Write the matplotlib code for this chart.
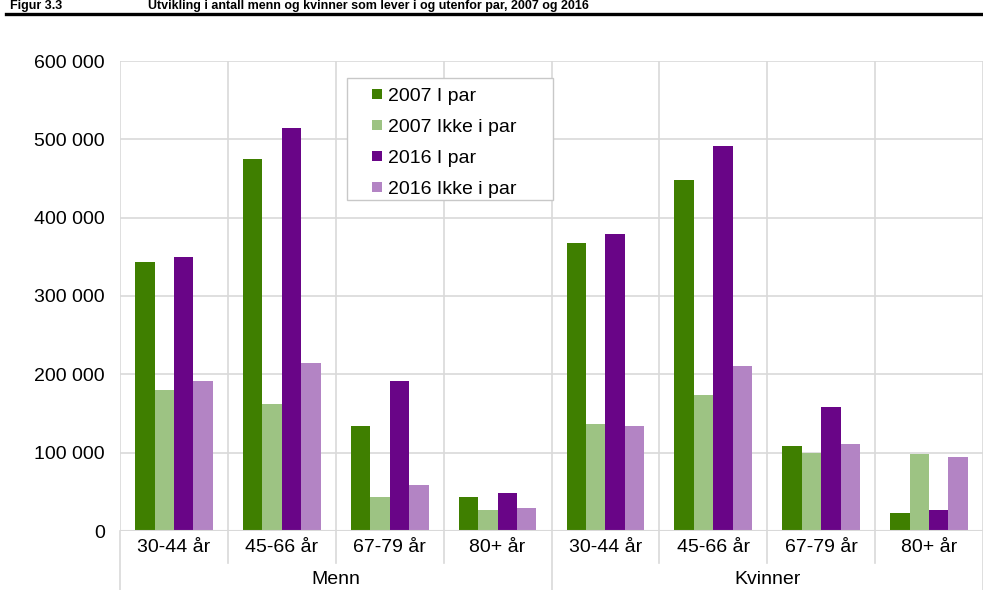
import matplotlib.pyplot as plt
import matplotlib.transforms as mtransforms
from matplotlib.lines import Line2D
import matplotlib.patches as patches
import numpy as np

plt.rcParams['font.family'] = ['Liberation Sans', 'DejaVu Sans']

age_groups = ['30-44 år', '45-66 år', '67-79 år', '80+ år']
sexes = ['Menn', 'Kvinner']
series_names = ['2007 I par', '2007 Ikke i par', '2016 I par', '2016 Ikke i par']

# Menn first, then Kvinner
par_2007 = [343000, 475000, 134000, 43500, 368000, 448000, 108500, 23000]
ikke_par_2007 = [180000, 162000, 43500, 27000, 137000, 173500, 99500, 98500]
par_2016 = [350000, 514000, 191500, 48500, 379000, 491500, 158500, 27000]
ikke_par_2016 = [191500, 214500, 58500, 29500, 134000, 210500, 111000, 94500]

colors = ['#3f7f00', '#9dc383', '#690587', '#b384c4']
grid_col = '#d9d9d9'
fs = 14

fig = plt.figure(figsize=(9.83, 5.9), dpi=100)
ax = fig.add_axes([120 / 983, 1 - 531 / 590, 863 / 983, 470 / 590])

n = len(par_2007)
x = np.arange(n)
width = 0.18
all_series = [par_2007, ikke_par_2007, par_2016, ikke_par_2016]
for k, (vals, col) in enumerate(zip(all_series, colors)):
    ax.bar(x + (k - 1.5) * width, vals, width, color=col, zorder=3)

ax.set_xlim(-0.5, n - 0.5)
ax.set_ylim(0, 600000)
ax.set_yticks(np.arange(0, 600001, 100000))
ax.set_yticklabels([f'{v:,}'.replace(',', ' ') for v in range(0, 600001, 100000)])
ax.tick_params(axis='y', length=0, pad=11, labelsize=fs, colors='#000000')
ax.set_xticks([])
ax.yaxis.grid(True, color=grid_col, lw=1.2, zorder=0)
for b in np.arange(-0.5, n, 1):
    ax.axvline(b, color=grid_col, lw=1.2, zorder=0)
for s in ax.spines.values():
    s.set_visible(False)
ax.axhline(0, color=grid_col, lw=1.5, zorder=4)

# category axis below
trans = mtransforms.blended_transform_factory(ax.transData, ax.transAxes)
labels = age_groups * 2
for i, lab in enumerate(labels):
    ax.text(i, -17 / 470, lab, transform=trans, ha='center', va='center', fontsize=fs)
for b in np.arange(-0.5, n, 1):
    if b in (-0.5, 3.5, n - 0.5):
        y_end = -59 / 470
    else:
        y_end = -32 / 470
    ax.plot([b, b], [0, y_end], transform=trans, color=grid_col, lw=1.2, clip_on=False)
for j, s in enumerate(sexes):
    ax.text(j * 4 + 1.5, -49 / 470, s, transform=trans, ha='center', va='center', fontsize=fs)

# legend: box drawn separately for Excel-like padding
box = patches.Rectangle((227 / 863, 331 / 470), 206 / 863, 122 / 470, transform=ax.transAxes,
                        facecolor='white', edgecolor='#c8c8c8', lw=1.0, zorder=5)
ax.add_patch(box)
handles = [Line2D([], [], ls='none', marker='s', markersize=7.5, color=c, markeredgewidth=0)
           for c in colors]
leg = ax.legend(handles, series_names, loc='upper left', bbox_to_anchor=(233 / 863, 444 / 470),
                frameon=False, fontsize=fs, handlelength=2.5, handletextpad=-0.7,
                labelspacing=0.69, borderpad=0, borderaxespad=0)
leg.set_zorder(6)

# title and rule
fig.text(10 / 983, 1 - 9.5 / 590, 'Figur 3.3', fontsize=9, fontweight='bold', va='baseline')
fig.text(148 / 983, 1 - 9.5 / 590,
         'Utvikling i antall menn og kvinner som lever i og utenfor par, 2007 og 2016',
         fontsize=9, fontweight='bold', va='baseline')
fig.add_artist(Line2D([6 / 983, 1], [1 - 13.5 / 590, 1 - 13.5 / 590], color='black', lw=2.4))

fig.savefig('out.png', dpi=100)
